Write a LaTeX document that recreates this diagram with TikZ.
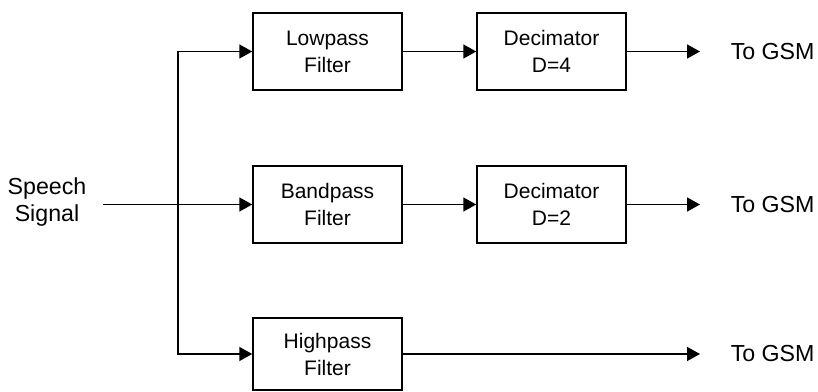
\documentclass[tikz,border=0pt]{standalone}
\usepackage{fontspec}
\setmainfont{Liberation Sans}
\usetikzlibrary{arrows.meta}

\begin{document}
\begin{tikzpicture}[x=0.5pt,y=-0.5pt,line width=0.75pt,
  block/.style={draw,minimum width=74.5pt,minimum height=38.5pt,align=center,
    font=\fontsize{10.5}{13.5}\selectfont,inner sep=0pt},
  label/.style={align=center,font=\fontsize{11.6}{13.5}\selectfont,inner sep=0pt},
  flow/.style={-{Triangle[length=6.5pt,width=7pt]}}]
\useasboundingbox (0,0) rectangle (818,391);
\def\ya{51.5}
\def\yb{204.5}

\node[block] (lp) at (327.5, \ya) {Lowpass\\Filter};
\node[block] (d4) at (551.5, \ya) {Decimator\\D=4};
\node[block] (bp) at (327.5, \yb) {Bandpass\\Filter};
\node[block] (d2) at (551.5, \yb) {Decimator\\D=2};
\node[block,minimum height=36pt] (hp) at (327.5, 354) {Highpass\\Filter};

\node[label] (sig) at (47, 202) {Speech\\Signal};
\coordinate (in) at (103, \yb);
\coordinate (split) at (178, \yb);

\coordinate (o1) at (700, \ya);
\coordinate (o2) at (700, \yb);
\coordinate (o3) at (700, 354);
\node[label,anchor=west] (g1) at (730, \ya) {To GSM};
\node[label,anchor=west] (g2) at (730, \yb) {To GSM};
\node[label,anchor=west] (g3) at (730, 354) {To GSM};

\draw[flow] (in) -- (bp.west);
\draw[flow] (split) |- (lp.west);
\draw[flow] (split) |- (hp.west);
\draw[flow] (lp) -- (d4);
\draw[flow] (bp) -- (d2);
\draw[flow] (d4) -- (o1);
\draw[flow] (d2) -- (o2);
\draw[flow] (hp) -- (o3);
\end{tikzpicture}
\end{document}
